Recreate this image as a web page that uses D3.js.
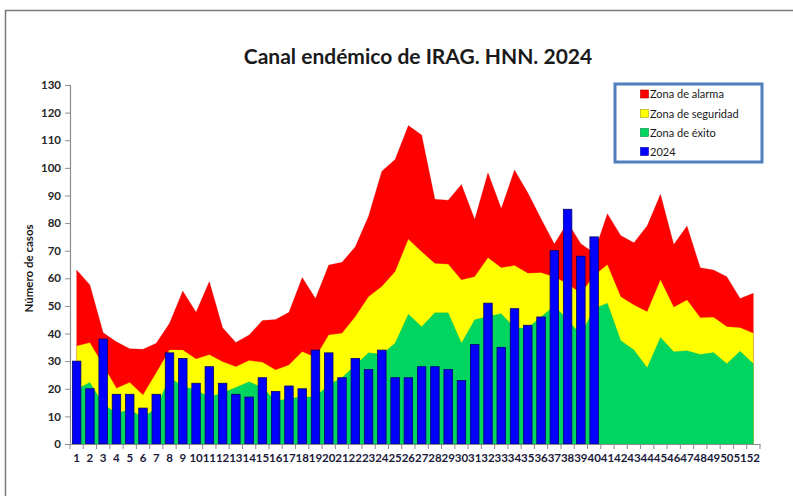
<!DOCTYPE html>
<html>
<head>
<meta charset="utf-8">
<script src="https://cdn.jsdelivr.net/npm/d3@7"></script>
<style>
  html, body { margin: 0; padding: 0; background: #fff; }
  svg { display: block; }
</style>
</head>
<body>
<svg id="chart" width="793" height="496"></svg>
<script>
const weeks = d3.range(1, 53).map(String);
const alarma = [63, 57.6, 40.3, 37, 34.5, 34.3, 36.5, 43.7, 55.4, 47.7, 58.8, 42.1, 36.8, 39.5, 44.7, 45.1, 47.7, 60.3, 52.7, 64.8,
  65.8, 71.4, 82.5, 98.8, 103, 115.3, 111.9, 88.6, 88.3, 94, 81.3, 98.2, 85.3, 99.2, 91, 81.6, 72.4, 80.2, 72.5, 69.2,
  83.4, 75.5, 72.9, 79, 90.4, 72.2, 78.9, 63.8, 63, 60.6, 52.7, 54.6];
const seguridad = [35.5, 36.7, 28.5, 20.2, 22.3, 17.7, 25.8, 34, 34, 30.8, 32.3, 29.8, 28, 30.2, 29.6, 26.8, 28.6, 33.4, 31.4, 39.5,
  40.1, 46.1, 53.3, 57, 62.4, 74.1, 69.6, 65.4, 65.1, 59.4, 60.6, 67.4, 63.8, 64.6, 61.8, 62, 60.5, 58, 54.5, 61,
  64.9, 53.3, 50.3, 47.9, 59.4, 49.5, 52.1, 45.7, 45.9, 42.5, 42.1, 40.1];
const exito = [19.8, 22.3, 14.5, 11, 12.5, 9.5, 13, 24, 21, 19.5, 17, 18.5, 20.5, 22.5, 20.5, 15.5, 16.5, 17, 17, 21.5,
  24, 28.5, 33, 32.5, 36.5, 47, 42.5, 47.5, 47.5, 36.5, 45, 46.2, 47.2, 42, 42, 46, 50, 45, 39.5, 49,
  51, 37.5, 34, 27.6, 38.6, 33.4, 33.8, 32.4, 33.1, 29.1, 33.6, 29.1];
const casos2024 = [30, 20, 38, 18, 18, 13, 18, 33, 31, 22, 28, 22, 18, 17, 24, 19, 21, 20, 34, 33,
  24, 31, 27, 34, 24, 24, 28, 28, 27, 23, 36, 51, 35, 49, 43, 46, 70, 85, 68, 75];
const yTicks = d3.range(0, 131, 10);
const legendLabels = ["Zona de alarma", "Zona de seguridad", "Zona de éxito", "2024"];

const colors = { alarma: "#ff0000", seguridad: "#ffff00", exito: "#00d65f", bar: "#0000ff" };
const font = "Lato, 'Open Sans', sans-serif";

const svg = d3.select("#chart");
const mLeft = 70, mRight = 760, mTop = 85, mBottom = 444;

// outer chart border
svg.append("rect").attr("x", 5.5).attr("y", 10.5).attr("width", 820).attr("height", 520)
  .attr("fill", "none").attr("stroke", "#7a7a7a").attr("stroke-width", 1.5);

const x = d3.scaleBand().domain(weeks).range([mLeft, mRight]).padding(0);
const y = d3.scaleLinear().domain([0, 130]).range([mBottom, mTop]);
const cx = i => x(weeks[i]) + x.bandwidth() / 2;

function drawArea(vals, color) {
  const area = d3.area().x((d, i) => cx(i)).y0(y(0)).y1(d => y(d));
  svg.append("path").datum(vals).attr("d", area).attr("fill", color)
    .attr("stroke", d3.color(color).darker(0.6)).attr("stroke-width", 0.4).attr("stroke-opacity", 0.6);
}
drawArea(alarma, colors.alarma);
drawArea(seguridad, colors.seguridad);
drawArea(exito, colors.exito);

// bars
const bw = x.bandwidth() * 0.64;
svg.append("g").selectAll("rect").data(casos2024).join("rect")
  .attr("x", (d, i) => cx(i) - bw / 2)
  .attr("y", d => y(d))
  .attr("width", bw)
  .attr("height", d => y(0) - y(d))
  .attr("fill", colors.bar)
  .attr("stroke", "#00006e").attr("stroke-width", 0.8);

// y axis
const yAxis = svg.append("g").attr("transform", `translate(${mLeft},0)`)
  .call(d3.axisLeft(y).tickValues(yTicks).tickSize(5).tickPadding(4));
yAxis.select(".domain").attr("stroke", "#8c8c8c").attr("stroke-width", 1.2);
yAxis.selectAll(".tick line").attr("stroke", "#8c8c8c");
yAxis.selectAll(".tick text").attr("font-family", font).attr("font-size", 11.5).attr("font-weight", 700).attr("fill", "#262626");

// x axis
const xAxis = svg.append("g").attr("transform", `translate(0,${mBottom})`)
  .call(d3.axisBottom(x).tickSize(0).tickPadding(10));
xAxis.select(".domain").attr("stroke", "#8c8c8c").attr("stroke-width", 1.2);
xAxis.selectAll(".tick text").attr("font-family", font).attr("font-size", 11.5).attr("font-weight", 700).attr("fill", "#1a1a3a");
// boundary ticks
svg.append("g").selectAll("line").data(weeks.concat(["end"])).join("line")
  .attr("x1", (d, i) => i < weeks.length ? x(d) : mRight)
  .attr("x2", (d, i) => i < weeks.length ? x(d) : mRight)
  .attr("y1", mBottom).attr("y2", mBottom + 5)
  .attr("stroke", "#8c8c8c");

// y title
svg.append("text").attr("transform", `translate(33,${(mTop + mBottom) / 2 + 4}) rotate(-90)`)
  .attr("text-anchor", "middle").attr("font-family", font).attr("font-size", 11.5).attr("font-weight", 700)
  .attr("fill", "#1a1a1a").text("Número de casos");

// title
svg.append("text").attr("x", 418).attr("y", 64).attr("text-anchor", "middle")
  .attr("font-family", font).attr("font-size", 21).attr("font-weight", 700).attr("fill", "#1a1a1a")
  .text("Canal endémico de IRAG. HNN. 2024");

// legend
const lg = svg.append("g");
lg.append("rect").attr("x", 615).attr("y", 84).attr("width", 147).attr("height", 78)
  .attr("fill", "#fff").attr("stroke", "#4f7fbd").attr("stroke-width", 3);
const legColors = [colors.alarma, colors.seguridad, colors.exito, colors.bar];
const rowsY = [94.5, 114, 133, 152];
legendLabels.forEach((lab, i) => {
  lg.append("rect").attr("x", 640.5).attr("y", rowsY[i] - 4.5).attr("width", 8).attr("height", 8)
    .attr("fill", legColors[i]).attr("stroke", d3.color(legColors[i]).darker(1.2)).attr("stroke-width", 0.6);
  lg.append("text").attr("x", 650).attr("y", rowsY[i] + 3.8)
    .attr("font-family", font).attr("font-size", 11).attr("fill", "#1a1a1a").text(lab);
});
</script>
</body>
</html>
